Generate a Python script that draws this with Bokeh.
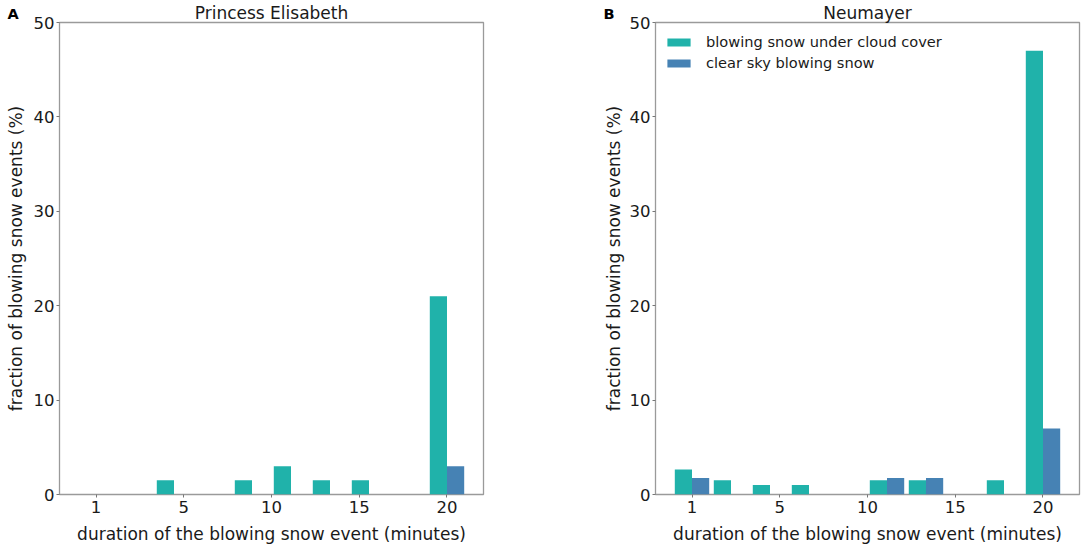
import math
from bokeh.plotting import figure
from bokeh.layouts import row
from bokeh.models import ColumnDataSource, Legend, LegendItem, FixedTicker, Range1d
from bokeh.transform import dodge
from bokeh.core.properties import value
from bokeh.embed import file_html
from bokeh.resources import INLINE

# ---------------- data ----------------
bin_centers = [0.0, 2.222, 4.444, 6.667, 8.889, 11.111, 13.333, 15.556, 17.778, 20.0]
x_ticks = [0, 5, 10, 15, 20]
x_tick_labels = ["1", "5", "10", "15", "20"]
y_ticks = [0, 10, 20, 30, 40, 50]

pe_cloud = [0, 0, 1.5, 0, 1.5, 3.0, 1.5, 1.5, 0, 21.0]
pe_clear = [0, 0, 0, 0, 0, 0, 0, 0, 0, 3.0]
nm_cloud = [2.65, 1.5, 1.0, 1.0, 0, 1.5, 1.5, 0, 1.5, 47.0]
nm_clear = [1.75, 0, 0, 0, 0, 1.75, 1.75, 0, 0, 7.0]

series_names = ["blowing snow under cloud cover", "clear sky blowing snow"]
titles = ["Princess Elisabeth", "Neumayer"]
panel_letters = ["A", "B"]
x_label = "duration of the blowing snow event (minutes)"
y_label = "fraction of blowing snow events (%)"

# ---------------- style / layout ----------------
TEAL = "#20B2AA"
BLUE = "#4682B4"
FONT = "DejaVu Sans"
TXT = "#1a1a1a"
FRAME = "#9a9a9a"
X0, X1 = -2.08, 22.08
Y0, Y1 = 0, 50
BAR_W = 0.98

H = 549
TOP, BOTTOM = 22, 55
SIDE_A_W = 30
SIDE_B_W = 138
P1_W, P1_L, P1_R = 458, 27, 5
P2_W, P2_L, P2_R = 457, 27, 4


def make_panel(title, cloud, clear, width, b_left, b_right, legend=False):
    src = ColumnDataSource(dict(x=bin_centers, cloud=cloud, clear=clear))
    p = figure(width=width, height=H, x_range=Range1d(X0, X1), y_range=Range1d(Y0, Y1),
               output_backend="svg", toolbar_location=None,
               min_border_left=b_left, min_border_right=b_right,
               min_border_top=TOP, min_border_bottom=BOTTOM)
    p.title.text = title
    p.title.align = "center"
    p.title.text_font = FONT
    p.title.text_font_size = "17px"
    p.title.text_font_style = "normal"
    p.title.text_color = TXT
    p.title.standoff = 0

    r1 = p.vbar(x=dodge("x", -BAR_W / 2), top="cloud", width=BAR_W, source=src,
                fill_color=TEAL, line_color=None)
    r2 = p.vbar(x=dodge("x", BAR_W / 2), top="clear", width=BAR_W, source=src,
                fill_color=BLUE, line_color=None)

    p.xgrid.visible = False
    p.ygrid.visible = False
    p.outline_line_color = FRAME
    p.outline_line_width = 1.3
    p.background_fill_color = "white"
    p.border_fill_color = "white"

    p.xaxis.ticker = FixedTicker(ticks=x_ticks)
    p.xaxis.major_label_overrides = dict(zip(x_ticks, x_tick_labels))
    p.yaxis.ticker = FixedTicker(ticks=y_ticks)
    for ax in (p.xaxis[0], p.yaxis[0]):
        ax.axis_line_color = None
        ax.minor_tick_line_color = None
        ax.major_tick_in = 0
        ax.major_tick_out = 3
        ax.major_tick_line_color = "#777777"
        ax.major_label_text_font = FONT
        ax.major_label_text_font_size = "16.5px"
        ax.major_label_text_color = TXT
    p.xaxis.major_label_standoff = 3
    p.yaxis.major_label_standoff = 2
    p.xaxis.axis_label = x_label
    p.xaxis.axis_label_text_font = FONT
    p.xaxis.axis_label_text_font_size = "17px"
    p.xaxis.axis_label_text_font_style = "normal"
    p.xaxis.axis_label_text_color = TXT
    p.xaxis.axis_label_standoff = 8

    if legend:
        lg = Legend(items=[LegendItem(label=series_names[0], renderers=[r1]),
                           LegendItem(label=series_names[1], renderers=[r2])],
                    location="top_left", margin=9, padding=9, spacing=0,
                    glyph_width=29, glyph_height=10, label_height=21, label_standoff=13,
                    label_text_font=FONT, label_text_font_size="14.6px",
                    label_text_color=TXT, border_line_color=None,
                    background_fill_alpha=0)
        p.add_layout(lg)
    return p


def make_side(width, letter, letter_x, ylabel_x):
    """Strip left of a panel's axis: panel letter (as its title) and rotated y-axis title.
    Its frame is aligned with the neighbouring panel frames, so it shares their y range."""
    s = figure(width=width, height=H, x_range=Range1d(0, width), y_range=Range1d(Y0, Y1),
               output_backend="svg", toolbar_location=None, min_border=0,
               min_border_left=0, min_border_right=0, min_border_top=0, min_border_bottom=0,
               x_axis_location=None, y_axis_location=None)
    s.title.text = letter
    s.title.align = "left"
    s.title.offset = letter_x
    s.title.text_font = FONT
    s.title.text_font_size = "14.5px"
    s.title.text_font_style = "bold"
    s.title.text_color = "black"
    s.title.standoff = 2
    s.outline_line_color = None
    s.xgrid.visible = False
    s.ygrid.visible = False
    s.text(x=[ylabel_x], y=[(Y0 + Y1) / 2], text=[y_label], angle=math.pi / 2,
           text_align="center", text_baseline="middle", text_font=value(FONT),
           text_font_size=value("17px"), text_color=TXT)
    return s


sideA = make_side(SIDE_A_W, panel_letters[0], 7, 15.7)
p1 = make_panel(titles[0], pe_cloud, pe_clear, P1_W, P1_L, P1_R)
sideB = make_side(SIDE_B_W, panel_letters[1], 115, 125.5)
p2 = make_panel(titles[1], nm_cloud, nm_clear, P2_W, P2_L, P2_R, legend=True)

layout = row(sideA, p1, sideB, p2)
open("out.html", "w").write(file_html(layout, INLINE))
